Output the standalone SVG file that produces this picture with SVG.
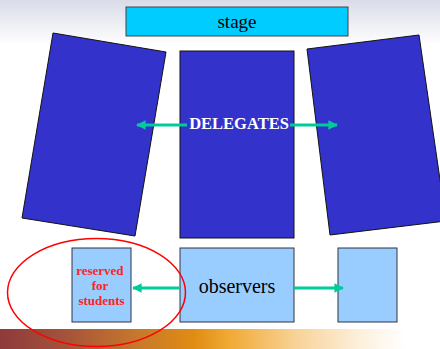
<svg xmlns="http://www.w3.org/2000/svg" width="440" height="349" viewBox="0 0 440 349">
<defs>
<linearGradient id="topg" x1="0" y1="0" x2="0" y2="1">
<stop offset="0" stop-color="#d9dbe8"/>
<stop offset="1" stop-color="#ffffff"/>
</linearGradient>
<linearGradient id="botg" x1="0" y1="0" x2="1" y2="0">
<stop offset="0" stop-color="#8e3a3c"/>
<stop offset="0.15" stop-color="#a5533a"/>
<stop offset="0.32" stop-color="#c87a2a"/>
<stop offset="0.44" stop-color="#e08c12"/>
<stop offset="0.52" stop-color="#f0aa35"/>
<stop offset="0.68" stop-color="#f8d49c"/>
<stop offset="0.82" stop-color="#fdf0dc"/>
<stop offset="0.92" stop-color="#ffffff"/>
</linearGradient>
<marker id="ah" viewBox="0 0 10 10" refX="9" refY="5" markerWidth="3.6" markerHeight="3.2" markerUnits="strokeWidth" orient="auto-start-reverse">
<path d="M0,0 L10,5 L0,10 Z" fill="#00cc99"/>
</marker>
<style>
.blk{fill:#3333cc;stroke:#111;stroke-width:1}
.lt{fill:#99ccff;stroke:#333344;stroke-width:1}
text{font-family:"Liberation Serif","Times New Roman","DejaVu Serif",serif}
.con{stroke:#00cc99;stroke-width:3;fill:none}
</style>
</defs>
<rect x="0" y="0" width="440" height="349" fill="#ffffff"/>
<rect x="0" y="0" width="440" height="45" fill="url(#topg)"/>
<rect x="0" y="329" width="440" height="20" fill="url(#botg)"/>

<g id="stage">
<rect x="126" y="7" width="222" height="29" fill="#00ccff" stroke="#444" stroke-width="1"/>
<text x="237" y="28" text-anchor="middle" font-size="19" font-family="Liberation Serif, serif" fill="#000">stage</text>
</g>
<g id="left-block">
<polygon class="blk" points="53,33 166,52 135,236 22,218"/>
</g>
<g id="right-block">
<polygon class="blk" points="307,49 419,35 446,221 330,235"/>
</g>
<g id="delegates">
<rect class="blk" x="180" y="51" width="114" height="187"/>
<text x="239" y="129" text-anchor="middle" font-size="16.5" font-weight="bold" font-family="Liberation Serif, serif" fill="#ffffff">DELEGATES</text>
</g>
<g id="students">
<rect class="lt" x="72" y="248" width="59" height="74"/>
<text text-anchor="middle" font-size="13" font-weight="bold" font-family="Liberation Serif, serif" fill="#ff2222">
<tspan x="101.5" y="275">reserved</tspan>
<tspan x="101.5" y="290">for</tspan>
<tspan x="101.5" y="305">students</tspan>
</text>
</g>
<g id="observers">
<rect class="lt" x="180" y="248" width="114" height="74"/>
<text x="237" y="293" text-anchor="middle" font-size="20" font-family="Liberation Serif, serif" fill="#000">observers</text>
</g>
<g id="right-small">
<rect class="lt" x="338" y="248" width="59" height="74"/>
</g>
<g id="highlight">
<ellipse cx="96.5" cy="292.5" rx="89" ry="54" fill="none" stroke="#ff0000" stroke-width="1.5"/>
</g>
<g id="connectors">
<line class="con" x1="187" y1="125" x2="137" y2="125" marker-end="url(#ah)"/>
<line class="con" x1="290" y1="125" x2="337" y2="125" marker-end="url(#ah)"/>
<line class="con" x1="180" y1="288" x2="133" y2="288" marker-end="url(#ah)"/>
<line class="con" x1="294" y1="288" x2="343" y2="288" marker-end="url(#ah)"/>
</g>
</svg>
